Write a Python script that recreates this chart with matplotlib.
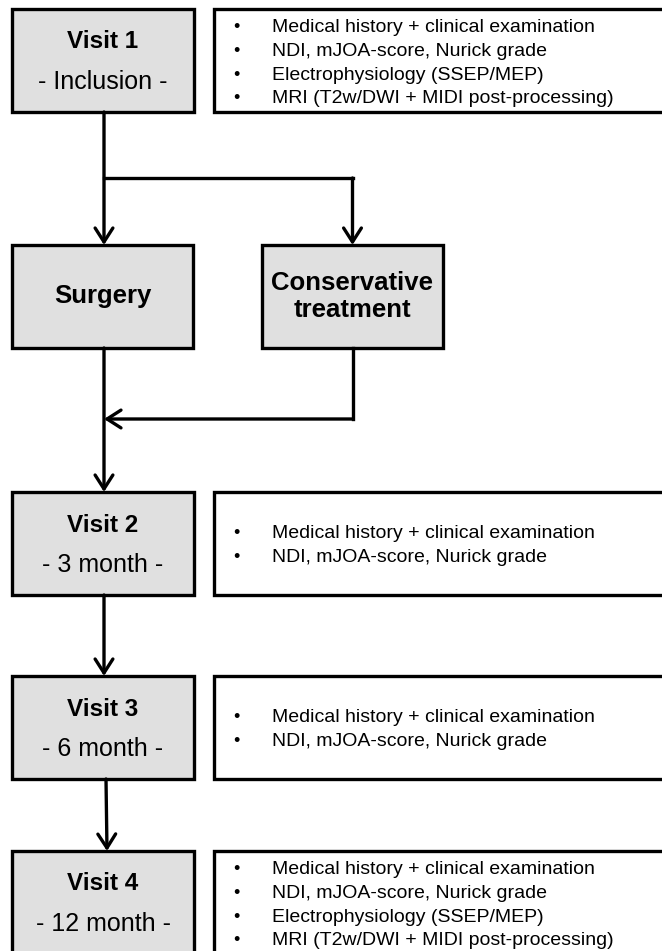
"""
plot.py
-------
Study flow chart: visits, treatment arms and examinations per visit.
Saves out.png (662x951 px).
"""

import matplotlib
matplotlib.use("Agg")
import matplotlib.pyplot as plt
from matplotlib.patches import Rectangle

plt.rcParams["font.family"] = ["Liberation Sans", "DejaVu Sans"]

# ── Content ────────────────────────────────────────────────────────────────────
visit_titles    = ["Visit 1", "Visit 2", "Visit 3", "Visit 4"]
visit_subtitles = ["- Inclusion -", "- 3 month -", "- 6 month -", "- 12 month -"]

full_exam  = ["Medical history + clinical examination",
              "NDI, mJOA-score, Nurick grade",
              "Electrophysiology (SSEP/MEP)",
              "MRI (T2w/DWI + MIDI post-processing)"]
short_exam = ["Medical history + clinical examination",
              "NDI, mJOA-score, Nurick grade"]
visit_items = [full_exam, short_exam, short_exam, full_exam]

treatment_labels = ["Surgery", "Conservative\ntreatment"]

# ── Layout (pixel coordinates, y grows downward) ───────────────────────────────
W, H       = 662, 951
BOX_H      = 103
VISIT_X    = 12
VISIT_W    = 182
ITEM_X     = 214
ITEM_W     = 520          # runs past the right edge, as in the original
visit_top  = [9, 492, 676, 851]
treat_x    = [12, 262]
treat_w    = 181
treat_top  = 245
MAIN_X     = 104
BRANCH_Y   = 178
MERGE_Y    = 419

GREY  = "#e0e0e0"
LW    = 2.4
ARROW = dict(arrowstyle="->,head_length=0.5,head_width=0.32", lw=LW,
             color="black", shrinkA=0, shrinkB=0, mutation_scale=20)

fig = plt.figure(figsize=(W / 100, H / 100), dpi=100)
ax = fig.add_axes([0, 0, 1, 1])
ax.set_xlim(0, W)
ax.set_ylim(H, 0)
ax.axis("off")


def arrow(x0, y0, x1, y1):
    ax.annotate("", xy=(x1, y1), xytext=(x0, y0), arrowprops=ARROW)


# ── Visit boxes + examination boxes ────────────────────────────────────────────
for top, title, sub, items in zip(visit_top, visit_titles, visit_subtitles, visit_items):
    ax.add_patch(Rectangle((VISIT_X, top), VISIT_W, BOX_H, facecolor=GREY,
                           edgecolor="black", lw=LW))
    cx = VISIT_X + VISIT_W / 2
    ax.text(cx, top + 33, title, ha="center", va="center", fontsize=17.5,
            fontweight="bold")
    ax.text(cx, top + 73, sub, ha="center", va="center", fontsize=18)

    ax.add_patch(Rectangle((ITEM_X, top), ITEM_W, BOX_H, facecolor="white",
                           edgecolor="black", lw=LW))
    if len(items) > 2:
        first, step = 19, 23.5
    else:
        first, step = 41, 25
    for i, item in enumerate(items):
        y = top + first + i * step
        ax.text(236, y, "•", ha="center", va="center", fontsize=13)
        ax.text(272, y, item, ha="left", va="center", fontsize=14)

# ── Treatment boxes ────────────────────────────────────────────────────────────
for x, label in zip(treat_x, treatment_labels):
    ax.add_patch(Rectangle((x, treat_top), treat_w, BOX_H, facecolor=GREY,
                           edgecolor="black", lw=LW))
    ax.text(x + treat_w / 2, treat_top + BOX_H / 2, label, ha="center",
            va="center", fontsize=18.5, fontweight="bold", linespacing=1.15)

cons_x = treat_x[1] + treat_w / 2

# ── Connectors ─────────────────────────────────────────────────────────────────
# Visit 1 -> branch -> both arms
arrow(MAIN_X, visit_top[0] + BOX_H, MAIN_X, treat_top)
ax.plot([MAIN_X, cons_x], [BRANCH_Y, BRANCH_Y], color="black", lw=LW,
        solid_capstyle="projecting")
arrow(cons_x, BRANCH_Y, cons_x, treat_top)

# Surgery -> Visit 2, conservative arm merges in
arrow(MAIN_X, treat_top + BOX_H, MAIN_X, visit_top[1])
ax.plot([cons_x, cons_x], [treat_top + BOX_H, MERGE_Y], color="black", lw=LW,
        solid_capstyle="projecting")
arrow(cons_x, MERGE_Y, MAIN_X, MERGE_Y)

# Visit 2 -> 3 -> 4
arrow(MAIN_X, visit_top[1] + BOX_H, MAIN_X, visit_top[2])
arrow(MAIN_X + 2, visit_top[2] + BOX_H, MAIN_X + 3, visit_top[3])

fig.savefig("out.png", dpi=100)
